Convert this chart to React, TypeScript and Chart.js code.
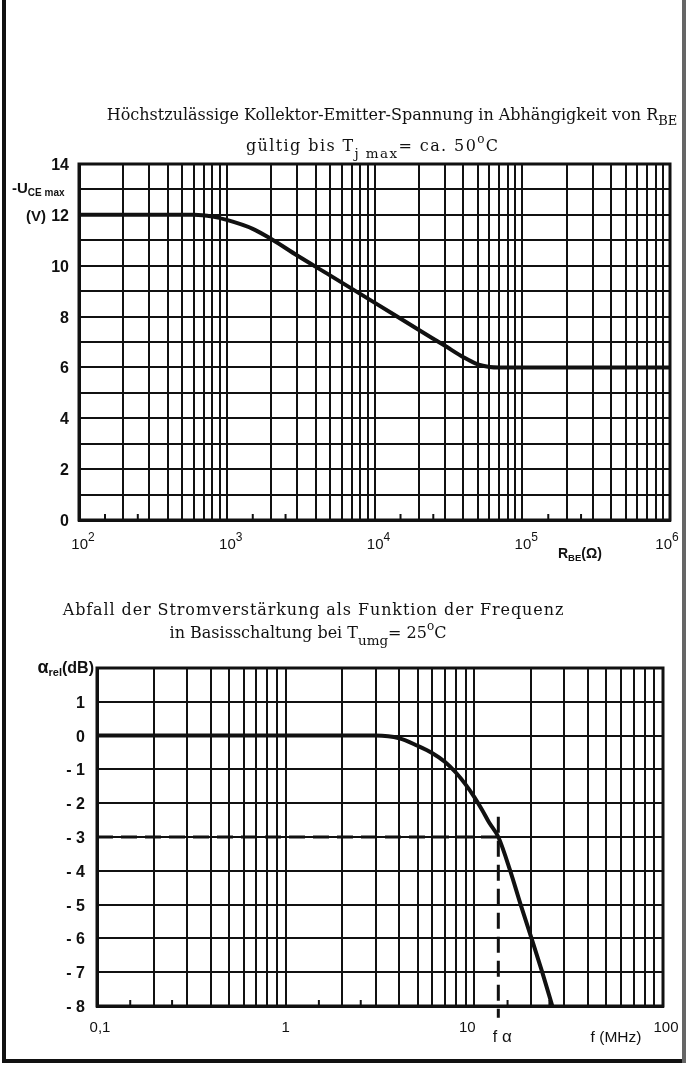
import React, { useEffect, useRef } from "react";
import { Chart, registerables } from "chart.js";

Chart.register(...registerables);

// ---------- Top chart: -U_CE max vs R_BE ----------
const rbeOhm = [100, 600, 800, 1000, 1500, 2000, 3000, 5000, 10000, 20000, 30000, 40000, 50000, 60000, 70000, 1000000];
const uceMaxV = [12, 12, 11.93, 11.8, 11.45, 11.05, 10.4, 9.62, 8.55, 7.47, 6.85, 6.4, 6.12, 6.02, 6.0, 6.0];
const topYTickLabels = [0, 2, 4, 6, 8, 10, 12, 14];
const topXDecadeExps = [2, 3, 4, 5, 6];

// ---------- Bottom chart: alpha_rel vs f ----------
const freqMHz = [0.1, 1, 3, 4, 5, 6, 7, 8, 9, 10, 11, 12, 13.4, 15.5, 17.6, 20.1, 22.9, 25.9];
const alphaRelDb = [0, 0, 0, -0.08, -0.3, -0.52, -0.78, -1.1, -1.45, -1.82, -2.2, -2.58, -3.0, -4.0, -5.0, -6.0, -7.0, -8.0];
const fAlphaMHz = 13.4;
const cutoffDb = -3;
const bottomYTickValues = [1, 0, -1, -2, -3, -4, -5, -6, -7, -8];
const bottomXTickValues = [0.1, 1, 10, 100];
const bottomXTickLabels = ["0,1", "1", "10", "100"];

const INK = "#111";
const SERIF = '"DejaVu Serif", "Liberation Serif", serif';
const SANS = '"Liberation Sans", "DejaVu Sans", Arial, sans-serif';

type Run = { t: string; size: number; dy?: number; bold?: boolean; family?: string };

function drawRuns(
  ctx: CanvasRenderingContext2D,
  runs: Run[],
  x: number,
  y: number,
  align: "left" | "center" | "right",
  spacing = 0
) {
  const fontOf = (r: Run) => `${r.bold ? "bold " : ""}${r.size}px ${r.family || SANS}`;
  const widthOf = (r: Run) => {
    ctx.font = fontOf(r);
    if (!spacing) return ctx.measureText(r.t).width;
    let w = 0;
    for (const ch of r.t) w += ctx.measureText(ch).width + spacing;
    return w;
  };
  const widths = runs.map(widthOf);
  const total = widths.reduce((a, b) => a + b, 0) - (spacing ? spacing : 0);
  let cx = align === "left" ? x : align === "center" ? x - total / 2 : x - total;
  ctx.textAlign = "left";
  ctx.textBaseline = "alphabetic";
  ctx.fillStyle = INK;
  runs.forEach((r, i) => {
    ctx.font = fontOf(r);
    if (!spacing) {
      ctx.fillText(r.t, cx, y + (r.dy || 0));
      cx += widths[i];
    } else {
      for (const ch of r.t) {
        ctx.fillText(ch, cx, y + (r.dy || 0));
        cx += ctx.measureText(ch).width + spacing;
      }
    }
  });
}

function logGridTicks(min: number, max: number) {
  const out: { value: number }[] = [];
  const e0 = Math.floor(Math.log10(min));
  const e1 = Math.ceil(Math.log10(max));
  for (let e = e0; e <= e1; e++) {
    for (let s = 1; s <= 9; s++) {
      const v = s * Math.pow(10, e);
      if (v >= min * 0.999 && v <= max * 1.001) out.push({ value: v });
    }
  }
  return out;
}

function drawFrameAndMinorTicks(chart: any, min: number, max: number) {
  const { ctx, chartArea: a, scales } = chart;
  ctx.save();
  ctx.strokeStyle = INK;
  ctx.lineWidth = 3;
  ctx.strokeRect(a.left, a.top, a.right - a.left, a.bottom - a.top);
  // small tick marks at 1.5 and 2.5 per decade
  ctx.lineWidth = 2;
  const e0 = Math.floor(Math.log10(min));
  const e1 = Math.ceil(Math.log10(max));
  for (let e = e0; e <= e1; e++) {
    for (const s of [1.5, 2.5]) {
      const v = s * Math.pow(10, e);
      if (v <= min || v >= max) continue;
      const px = scales.x.getPixelForValue(v);
      ctx.beginPath();
      ctx.moveTo(px, a.bottom);
      ctx.lineTo(px, a.bottom - 6);
      ctx.stroke();
    }
  }
  ctx.restore();
}

const gridOpts = { color: INK, lineWidth: 2, drawTicks: false };
const borderOpts = { color: INK, width: 3 };

function makeTopChart(canvas: HTMLCanvasElement) {
  const textPlugin = {
    id: "topText",
    beforeDatasetsDraw(chart: any) {
      drawFrameAndMinorTicks(chart, 100, 1e6);
    },
    afterDraw(chart: any) {
      const { ctx, scales } = chart;
      ctx.save();
      // titles
      drawRuns(
        ctx,
        [
          { t: "Höchstzulässige Kollektor-Emitter-Spannung in Abhängigkeit von R", size: 16, family: SERIF },
          { t: "BE", size: 13, dy: 5, family: SERIF },
        ],
        392,
        120,
        "center"
      );
      drawRuns(
        ctx,
        [
          { t: "gültig bis T", size: 16, family: SERIF },
          { t: "j max", size: 13.5, dy: 7, family: SERIF },
          { t: "= ca. 50", size: 16, family: SERIF },
          { t: "o", size: 12, dy: -8, family: SERIF },
          { t: "C", size: 16, family: SERIF },
        ],
        372,
        151,
        "center",
        1.4
      );
      // y tick labels
      topYTickLabels.forEach((v) => {
        const py = scales.y.getPixelForValue(v);
        drawRuns(ctx, [{ t: String(v), size: 16, bold: true }], 69, py + 6, "right");
      });
      drawRuns(ctx, [{ t: "(V)", size: 15, bold: true }], 46, scales.y.getPixelForValue(12) + 6, "right");
      drawRuns(
        ctx,
        [
          { t: "-U", size: 15, bold: true },
          { t: "CE max", size: 10, bold: true, dy: 3 },
        ],
        12,
        scales.y.getPixelForValue(13) + 4,
        "left"
      );
      // x tick labels 10^n
      topXDecadeExps.forEach((e, i) => {
        const px = scales.x.getPixelForValue(Math.pow(10, e));
        const shift = i === topXDecadeExps.length - 1 ? -3 : 4;
        drawRuns(
          ctx,
          [
            { t: "10", size: 15 },
            { t: String(e), size: 12, dy: -8 },
          ],
          px + shift,
          549,
          "center"
        );
      });
      drawRuns(
        ctx,
        [
          { t: "R", size: 14, bold: true },
          { t: "BE", size: 9.5, bold: true, dy: 3 },
          { t: "(Ω)", size: 14, bold: true },
        ],
        558,
        558,
        "left"
      );
      ctx.restore();
    },
  };

  return new Chart(canvas, {
    type: "line",
    data: {
      datasets: [
        {
          data: rbeOhm.map((x, i) => ({ x, y: uceMaxV[i] })),
          borderColor: INK,
          borderWidth: 4,
          pointRadius: 0,
          cubicInterpolationMode: "monotone",
          fill: false,
        },
      ],
    },
    options: {
      responsive: false,
      animation: false,
      devicePixelRatio: 1,
      layout: { padding: { left: 79, right: 17, top: 164, bottom: 60 } },
      plugins: { legend: { display: false }, tooltip: { enabled: false }, title: { display: false } },
      scales: {
        x: {
          type: "logarithmic",
          min: 100,
          max: 1e6,
          afterBuildTicks: (axis: any) => {
            axis.ticks = logGridTicks(100, 1e6);
          },
          ticks: { display: false },
          grid: gridOpts,
          border: borderOpts,
        },
        y: {
          type: "linear",
          min: 0,
          max: 14,
          ticks: { display: false, stepSize: 1 },
          grid: gridOpts,
          border: borderOpts,
        },
      },
    },
    plugins: [textPlugin],
  } as any);
}

function makeBottomChart(canvas: HTMLCanvasElement) {
  const top = 580;
  const textPlugin = {
    id: "bottomText",
    beforeDatasetsDraw(chart: any) {
      drawFrameAndMinorTicks(chart, 0.1, 100);
    },
    afterDraw(chart: any) {
      const { ctx, scales } = chart;
      ctx.save();
      drawRuns(
        ctx,
        [{ t: "Abfall der Stromverstärkung als Funktion der Frequenz", size: 16, family: SERIF }],
        313,
        615 - top,
        "center",
        0.9
      );
      drawRuns(
        ctx,
        [
          { t: "in Basisschaltung bei T", size: 16, family: SERIF },
          { t: "umg", size: 13.5, dy: 7, family: SERIF },
          { t: "= 25", size: 16, family: SERIF },
          { t: "o", size: 12, dy: -8, family: SERIF },
          { t: "C", size: 16, family: SERIF },
        ],
        308,
        638 - top,
        "center"
      );
      // y labels
      bottomYTickValues.forEach((v) => {
        const py = scales.y.getPixelForValue(v);
        const label = v < 0 ? "- " + Math.abs(v) : String(v);
        drawRuns(ctx, [{ t: label, size: 16, bold: true }], 85, py + 6, "right");
      });
      drawRuns(
        ctx,
        [
          { t: "α", size: 18, bold: true },
          { t: "rel", size: 11, bold: true, dy: 3 },
          { t: "(dB)", size: 16, bold: true },
        ],
        94,
        scales.y.getPixelForValue(2) + 5,
        "right"
      );
      // x labels
      bottomXTickValues.forEach((v, i) => {
        const px = scales.x.getPixelForValue(v);
        const shift = i === 0 ? 3 : i === 2 ? -7 : i === 3 ? 3 : 0;
        drawRuns(ctx, [{ t: bottomXTickLabels[i], size: 15 }], px + shift, 1032 - top, "center");
      });
      drawRuns(
        ctx,
        [
          { t: "f", size: 16 },
          { t: " α", size: 17 },
        ],
        scales.x.getPixelForValue(fAlphaMHz) + 4,
        1042 - top,
        "center"
      );
      drawRuns(ctx, [{ t: "f (MHz)", size: 15.5 }], 616, 1042 - top, "center");
      ctx.restore();
    },
  };

  return new Chart(canvas, {
    type: "line",
    data: {
      datasets: [
        {
          data: freqMHz.map((x, i) => ({ x, y: alphaRelDb[i] })),
          borderColor: INK,
          borderWidth: 4,
          pointRadius: 0,
          cubicInterpolationMode: "monotone",
          fill: false,
        },
        {
          data: [
            { x: 0.1, y: cutoffDb },
            { x: fAlphaMHz, y: cutoffDb },
          ],
          borderColor: INK,
          borderWidth: 3,
          borderDash: [16, 8],
          pointRadius: 0,
          fill: false,
        },
        {
          data: [
            { x: fAlphaMHz, y: -2.4 },
            { x: fAlphaMHz, y: -8.35 },
          ],
          borderColor: INK,
          borderWidth: 3,
          borderDash: [16, 8],
          pointRadius: 0,
          fill: false,
          clip: false,
        },
      ],
    },
    options: {
      responsive: false,
      animation: false,
      devicePixelRatio: 1,
      layout: { padding: { left: 97, right: 24, top: 88, bottom: 61 } },
      plugins: { legend: { display: false }, tooltip: { enabled: false }, title: { display: false } },
      scales: {
        x: {
          type: "logarithmic",
          min: 0.1,
          max: 100,
          afterBuildTicks: (axis: any) => {
            axis.ticks = logGridTicks(0.1, 100);
          },
          ticks: { display: false },
          grid: gridOpts,
          border: borderOpts,
        },
        y: {
          type: "linear",
          min: -8,
          max: 2,
          ticks: { display: false, stepSize: 1 },
          grid: gridOpts,
          border: borderOpts,
        },
      },
    },
    plugins: [textPlugin],
  } as any);
}

export default function App() {
  const topRef = useRef<HTMLCanvasElement>(null);
  const botRef = useRef<HTMLCanvasElement>(null);

  useEffect(() => {
    const c1 = makeTopChart(topRef.current!);
    const c2 = makeBottomChart(botRef.current!);
    return () => {
      c1.destroy();
      c2.destroy();
    };
  }, []);

  return (
    <div style={{ position: "absolute", left: 0, top: 0, width: 687, height: 1067, background: "#fff", overflow: "hidden" }}>
      <canvas ref={topRef} width={687} height={580} style={{ position: "absolute", left: 0, top: 0, width: 687, height: 580 }} />
      <canvas ref={botRef} width={687} height={487} style={{ position: "absolute", left: 0, top: 580, width: 687, height: 487 }} />
      <div style={{ position: "absolute", left: 2, top: 0, width: 4, height: 1063, background: "#111" }} />
      <div style={{ position: "absolute", left: 2, top: 1059, width: 684, height: 4, background: "#111" }} />
      <div style={{ position: "absolute", left: 682, top: 0, width: 4, height: 1063, background: "#666" }} />
    </div>
  );
}
